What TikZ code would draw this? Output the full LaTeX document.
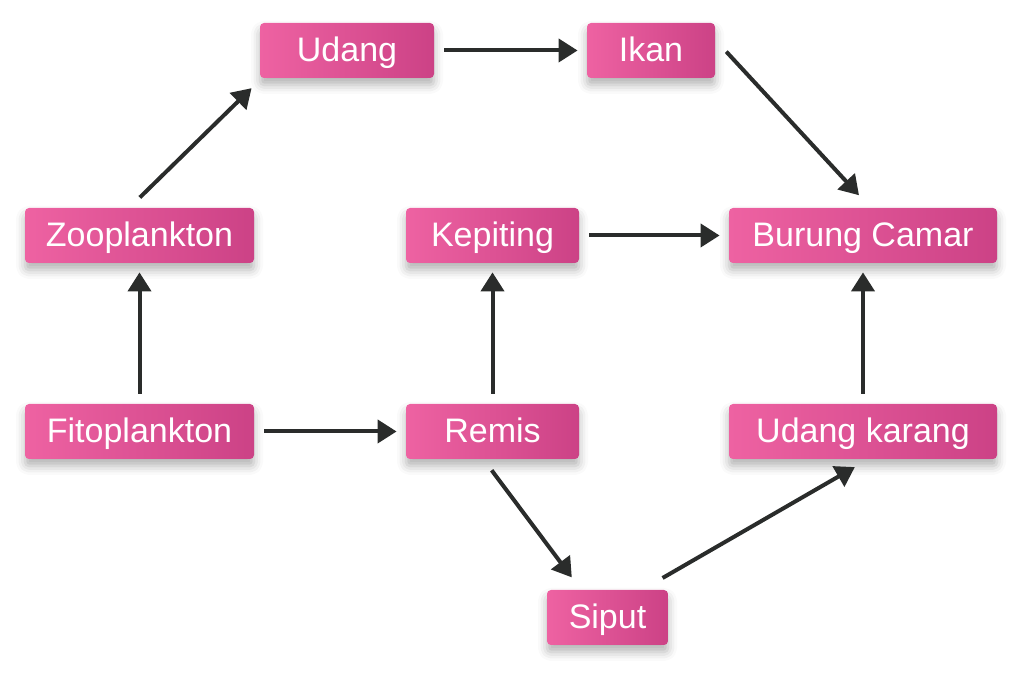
\documentclass[tikz,border=0pt]{standalone}
\usepackage{fontspec}
\setmainfont{Liberation Sans}
\usetikzlibrary{arrows.meta,shadows.blur}
\definecolor{pinkL}{RGB}{238,98,162}
\definecolor{pinkR}{RGB}{204,66,134}
\definecolor{arrowgray}{RGB}{42,44,43}

\begin{document}
\begin{tikzpicture}[x=0.5pt, y=0.5pt,
		box/.style={rounded corners=2pt, left color=pinkL, right color=pinkR,
			minimum height=27.5pt, inner sep=0pt, text=white,
			text height=14pt, text depth=3pt,
			font=\fontsize{17}{20}\selectfont,
			blur shadow={shadow xshift=0pt, shadow yshift=-3.5pt, shadow blur radius=4.5pt, shadow opacity=30}},
		link/.style={line width=2pt, color=arrowgray, -{Triangle[length=9.5pt, width=11.5pt]},
			shorten <=5pt, shorten >=4.5pt}]
		%%%%% START %%%%%
		
		\useasboundingbox (0, 0) rectangle (1023, 683);
		
		\node[box, minimum width=87pt] (udang) at (347, 632.5) {Udang};
		\node[box, minimum width=64pt] (ikan) at (651, 632.5) {Ikan};
		
		\node[box, minimum width=114.5pt] (zoo) at (139.5, 447.5) {Zooplankton};
		\node[box, minimum width=86.5pt] (kepiting) at (492.5, 447.5) {Kepiting};
		\node[box, minimum width=134pt] (burung) at (863, 447.5) {Burung Camar};
		
		\node[box, minimum width=114.5pt] (fito) at (139.5, 251.5) {Fitoplankton};
		\node[box, minimum width=86.5pt] (remis) at (492.5, 251.5) {Remis};
		\node[box, minimum width=134pt] (ukarang) at (863, 251.5) {Udang karang};
		
		\node[box, minimum width=60.5pt] (siput) at (607.5, 65.5) {Siput};
		
		% straight links
		\draw[link] (udang) -- (ikan);
		\draw[link] (kepiting) -- (burung);
		\draw[link] (fito) -- (remis);
		\draw[link] (fito) -- (zoo);
		\draw[link] (remis) -- (kepiting);
		\draw[link] (ukarang) -- (burung);
		
		% diagonal links
		\draw[link, shorten <=7.2pt, shorten >=7pt] ([xshift=-5pt]zoo.north) -- ([xshift=1pt]udang.south west);
		\draw[link, shorten <=8pt, shorten >=8.4pt] ([yshift=5.3pt]ikan.east) -- ([xshift=3.7pt]burung.north);
		\draw[link, shorten <=6.8pt, shorten >=7.6pt] ([xshift=-4.5pt]remis.south) -- ([xshift=-13.3pt]siput.north);
		\draw[link, shorten <=11.6pt, shorten >=7.7pt] ([xshift=17.5pt]siput.north) -- ([xshift=2.6pt]ukarang.south);
		
		%%%%% END %%%%%
	\end{tikzpicture}
\end{document}
